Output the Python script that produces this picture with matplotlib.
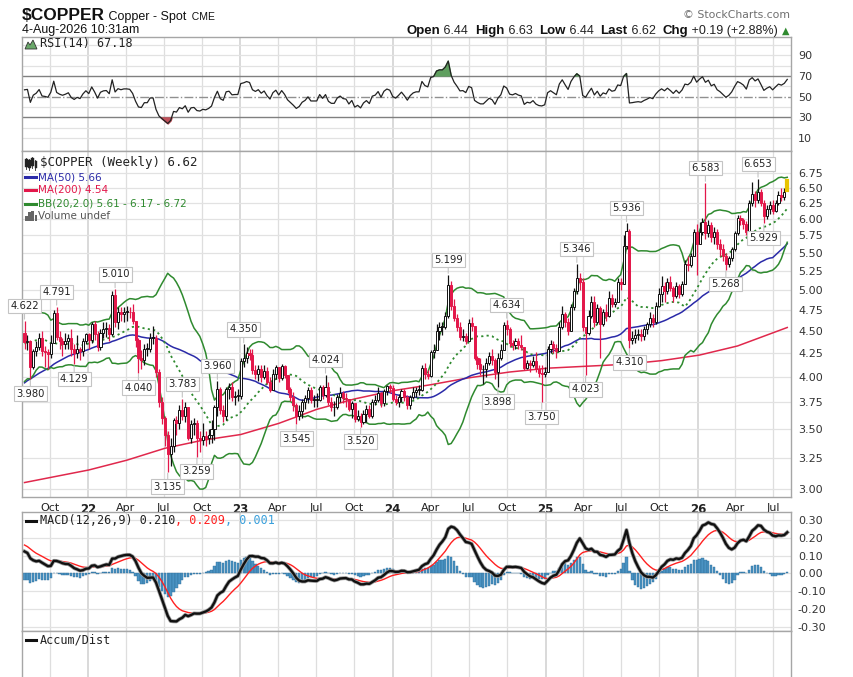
import numpy as np
import pandas as pd
import matplotlib
matplotlib.use("Agg")
import matplotlib.pyplot as plt
import matplotlib.dates as mdates
import matplotlib.patheffects as pe
from matplotlib.lines import Line2D
from matplotlib.patches import Polygon, Rectangle

W, H = 854, 677

# ---------------- data (weekly) ----------------
first_week = "2021-08-02"

# weeks before the first visible one, only used to warm up MA50 / BB / RSI / MACD
warmup_close = [3.25, 3.28, 3.30, 3.35, 3.40, 3.40, 3.45, 3.42, 3.40,
                3.45, 3.48, 3.52, 3.50, 3.55, 3.60, 3.68, 3.75,
                3.80, 3.85, 3.85, 3.88, 3.85, 3.88, 3.85, 3.80,
                3.85, 3.95, 4.15, 4.20, 4.15, 4.12, 4.10, 4.05,
                4.02, 4.15, 4.28, 4.48, 4.58, 4.72, 4.65, 4.60,
                4.55, 4.48, 4.22, 4.30, 4.30, 4.35, 4.32, 4.48]

close = [
    # 2021
    4.37, 4.38, 4.10, 4.27, 4.32, 4.42, 4.27, 4.26, 4.24, 4.36, 4.71,
    4.43, 4.38, 4.35, 4.38, 4.42, 4.30, 4.25, 4.30, 4.27, 4.38, 4.46,
    # 2022
    4.40, 4.58, 4.47, 4.32, 4.48, 4.52, 4.53, 4.46, 4.93, 4.60, 4.73, 4.70, 4.73,
    4.73, 4.72, 4.62, 4.40, 4.20, 4.18, 4.30, 4.30, 4.42, 4.42, 4.05, 3.75, 3.60,
    3.45, 3.28, 3.35, 3.58, 3.55, 3.67, 3.62, 3.70, 3.42, 3.54, 3.55, 3.42, 3.40,
    3.44, 3.42, 3.45, 3.50, 3.70, 3.88, 3.67, 3.62, 3.88, 3.90, 3.80, 3.81, 3.81,
    # 2023
    4.17, 4.20, 4.25, 4.23, 4.07, 4.03, 4.08, 4.00, 4.06, 3.95, 3.87, 4.03, 4.10,
    3.99, 4.11, 4.02, 3.88, 3.80, 3.72, 3.62, 3.66, 3.75, 3.79, 3.87, 3.77, 3.77,
    3.77, 3.90, 3.82, 3.90, 3.75, 3.70, 3.70, 3.80, 3.84, 3.79, 3.78, 3.68, 3.74,
    3.59, 3.62, 3.56, 3.64, 3.68, 3.62, 3.75, 3.77, 3.84, 3.74, 3.86, 3.91, 3.89,
    # 2024
    3.78, 3.75, 3.80, 3.86, 3.80, 3.72, 3.80, 3.85, 3.87, 3.87, 4.09, 4.03, 4.01,
    4.26, 4.29, 4.50, 4.55, 4.55, 4.68, 5.06, 4.80, 4.65, 4.55, 4.43, 4.44, 4.39,
    4.59, 4.56, 4.20, 4.13, 4.08, 4.08, 4.15, 4.22, 4.18, 4.05, 4.20, 4.29, 4.57, 4.52,
    4.36, 4.34, 4.38, 4.34, 4.32, 4.09, 4.14, 4.12, 4.17, 4.08, 4.04, 4.03, 4.05,
    # 2025
    4.30, 4.35, 4.31, 4.27, 4.55, 4.70, 4.60, 4.50, 4.78, 4.98, 5.15, 5.10, 4.55,
    4.48, 4.67, 4.85, 4.61, 4.77, 4.58, 4.72, 4.68, 4.90, 4.82, 4.85, 5.10, 5.08,
    5.60, 5.82, 4.40, 4.42, 4.45, 4.47, 4.44, 4.52, 4.58, 4.65, 4.60, 4.80, 4.95,
    5.05, 4.98, 5.10, 5.02, 4.92, 5.05, 4.95, 5.08, 5.35, 5.33, 5.45, 5.80, 5.62,
    # 2026
    5.80, 5.95, 5.78, 5.90, 5.72, 5.80, 5.62, 5.55, 5.45, 5.35, 5.42, 5.55, 5.78,
    6.02, 5.98, 5.92, 5.80, 6.25, 6.40, 6.30, 6.42, 6.25, 6.05, 6.15, 6.22, 6.12,
    6.25, 6.38, 6.35, 6.43, 6.62,
]

high = [
    4.622, 4.45, 4.40, 4.30, 4.38, 4.48, 4.50, 4.33, 4.30, 4.45, 4.75,
    4.791, 4.50, 4.42, 4.48, 4.46, 4.52, 4.35, 4.45, 4.32, 4.42, 4.48,
    4.48, 4.60, 4.62, 4.50, 4.52, 4.60, 4.60, 4.58, 4.98, 5.010, 4.78, 4.78, 4.78,
    4.80, 4.78, 4.82, 4.60, 4.42, 4.28, 4.35, 4.36, 4.48, 4.56, 4.45, 4.08, 3.80,
    3.62, 3.48, 3.42, 3.60, 3.62, 3.72, 3.783, 3.75, 3.70, 3.58, 3.60, 3.58, 3.48,
    3.55, 3.48, 3.50, 3.58, 3.72, 3.96, 3.90, 3.72, 3.90, 3.94, 3.95, 3.86, 3.88,
    4.20, 4.35, 4.32, 4.30, 4.30, 4.12, 4.12, 4.12, 4.12, 4.10, 4.00, 4.08, 4.12,
    4.10, 4.13, 4.12, 4.02, 3.90, 3.85, 3.74, 3.72, 3.78, 3.82, 3.90, 3.90, 3.82,
    3.84, 3.92, 3.92, 4.024, 3.95, 3.80, 3.76, 3.83, 3.90, 3.86, 3.84, 3.78, 3.76,
    3.74, 3.67, 3.65, 3.67, 3.72, 3.72, 3.78, 3.82, 3.90, 3.85, 3.88, 3.92, 3.93,
    3.92, 3.82, 3.83, 3.88, 3.88, 3.82, 3.82, 3.90, 3.90, 3.92, 4.12, 4.15, 4.07,
    4.28, 4.35, 4.58, 4.60, 4.60, 4.72, 5.199, 5.12, 4.88, 4.70, 4.60, 4.52, 4.48,
    4.64, 4.66, 4.55, 4.22, 4.20, 4.12, 4.20, 4.26, 4.30, 4.20, 4.25, 4.35, 4.60, 4.634,
    4.55, 4.40, 4.42, 4.42, 4.45, 4.30, 4.18, 4.18, 4.22, 4.26, 4.12, 4.12, 4.10,
    4.33, 4.40, 4.38, 4.35, 4.60, 4.80, 4.72, 4.65, 4.82, 5.02, 5.346, 5.22, 5.15,
    4.52, 4.75, 4.92, 4.92, 4.82, 4.80, 4.76, 4.82, 4.98, 4.95, 4.90, 5.15, 5.16,
    5.75, 5.936, 5.85, 4.50, 4.52, 4.52, 4.52, 4.56, 4.60, 4.72, 4.70, 4.85, 5.02,
    5.18, 5.10, 5.15, 5.18, 5.05, 5.10, 5.08, 5.12, 5.40, 5.45, 5.50, 5.85, 5.92,
    5.95, 6.02, 6.583, 5.98, 5.95, 5.88, 5.85, 5.70, 5.62, 5.50, 5.46, 5.58, 5.82,
    6.06, 6.06, 6.02, 5.96, 6.30, 6.60, 6.45, 6.653, 6.48, 6.30, 6.22, 6.28, 6.30,
    6.30, 6.45, 6.50, 6.50, 6.63,
]

low = [
    4.30, 4.28, 3.98, 4.08, 4.22, 4.28, 4.22, 4.10, 4.08, 4.20, 4.36,
    4.40, 4.30, 4.22, 4.30, 4.30, 4.22, 4.129, 4.20, 4.18, 4.22, 4.35,
    4.30, 4.36, 4.40, 4.27, 4.28, 4.42, 4.43, 4.38, 4.44, 4.55, 4.52, 4.62, 4.60,
    4.62, 4.65, 4.58, 4.32, 4.04, 4.08, 4.12, 4.22, 4.26, 4.35, 4.00, 3.70, 3.54,
    3.35, 3.135, 3.18, 3.30, 3.45, 3.50, 3.58, 3.56, 3.40, 3.38, 3.45, 3.259, 3.30,
    3.36, 3.35, 3.37, 3.38, 3.40, 3.62, 3.64, 3.56, 3.58, 3.78, 3.76, 3.72, 3.76,
    3.78, 4.10, 4.15, 4.18, 4.03, 3.98, 3.96, 3.95, 3.98, 3.93, 3.85, 3.92, 3.98,
    3.95, 3.97, 3.99, 3.84, 3.76, 3.66, 3.545, 3.58, 3.60, 3.68, 3.74, 3.74, 3.70,
    3.70, 3.76, 3.78, 3.80, 3.72, 3.66, 3.62, 3.68, 3.75, 3.74, 3.70, 3.66, 3.60,
    3.56, 3.57, 3.52, 3.54, 3.56, 3.60, 3.60, 3.72, 3.75, 3.70, 3.71, 3.82, 3.84,
    3.76, 3.72, 3.70, 3.75, 3.76, 3.68, 3.68, 3.78, 3.80, 3.82, 3.86, 3.98, 3.98,
    4.00, 4.20, 4.28, 4.40, 4.45, 4.52, 4.65, 4.75, 4.62, 4.50, 4.40, 4.38, 4.35,
    4.38, 4.50, 4.18, 4.08, 4.02, 3.93, 4.00, 4.12, 4.12, 3.98, 3.898, 4.18, 4.28, 4.45,
    4.32, 4.28, 4.30, 4.30, 4.28, 4.07, 4.08, 4.05, 4.10, 4.05, 4.00, 3.75, 4.00,
    4.05, 4.25, 4.25, 4.20, 4.27, 4.52, 4.55, 4.45, 4.50, 4.75, 4.95, 5.00, 4.50,
    4.023, 4.45, 4.65, 4.55, 4.58, 4.20, 4.56, 4.62, 4.66, 4.78, 4.78, 4.85, 5.00,
    5.08, 5.55, 4.31, 4.35, 4.36, 4.40, 4.38, 4.40, 4.46, 4.55, 4.55, 4.58, 4.78,
    4.85, 4.85, 4.95, 4.98, 4.85, 4.90, 4.90, 4.92, 5.08, 5.25, 5.30, 5.45, 5.20,
    5.62, 5.75, 5.70, 5.72, 5.65, 5.62, 5.55, 5.45, 5.38, 5.268, 5.30, 5.38, 5.52,
    5.75, 5.90, 5.85, 5.76, 5.78, 6.20, 6.18, 6.25, 6.20, 5.929, 6.00, 6.08, 6.08,
    6.10, 6.22, 6.28, 6.30, 6.44,
]
last_open = 6.44

# 200-week moving average
ma200_dates = ["2021-08-02", "2022-01-03", "2022-04-04", "2022-07-04", "2022-10-03",
               "2023-01-02", "2023-04-03", "2023-07-03", "2023-10-02", "2024-01-01",
               "2024-04-01", "2024-07-01", "2024-10-07", "2025-01-06", "2025-04-07",
               "2025-07-07", "2025-10-06", "2026-01-05", "2026-04-06", "2026-08-03"]
ma200_vals = [3.05, 3.15, 3.23, 3.33, 3.40, 3.45, 3.55, 3.68, 3.78, 3.86,
              3.92, 3.99, 4.05, 4.09, 4.11, 4.13, 4.17, 4.23, 4.33, 4.54]

# annotated highs / lows
label_dates = ["2021-08-02", "2021-08-16", "2021-10-18", "2021-11-29", "2022-03-07",
               "2022-05-02", "2022-07-11", "2022-08-15", "2022-09-19", "2022-11-07",
               "2023-01-09", "2023-05-15", "2023-07-24", "2023-10-16", "2024-05-13",
               "2024-09-09", "2024-09-30", "2024-12-23", "2025-03-17", "2025-04-07",
               "2025-07-14", "2025-07-21", "2026-01-19", "2026-03-09", "2026-05-25",
               "2026-06-08"]
label_vals = [4.622, 3.980, 4.791, 4.129, 5.010, 4.040, 3.135, 3.783, 3.259, 3.960,
              4.350, 3.545, 4.024, 3.520, 5.199, 3.898, 4.634, 3.750, 5.346, 4.023,
              5.936, 4.310, 6.583, 5.268, 6.653, 5.929]
label_kind = ["h", "l", "h", "l", "h", "l", "l", "h", "l", "h", "h", "l", "h", "l",
              "h", "l", "h", "l", "h", "l", "h", "l", "h", "l", "h", "l"]

price_ticks = [3.00, 3.25, 3.50, 3.75, 4.00, 4.25, 4.50, 4.75, 5.00, 5.25,
               5.50, 5.75, 6.00, 6.25, 6.50, 6.75]
rsi_ticks = [10, 30, 50, 70, 90]
macd_ticks = [0.30, 0.20, 0.10, 0.00, -0.10, -0.20, -0.30]

rsi_text = "RSI(14) 67.18"
main_text = "$COPPER (Weekly) 6.62"
ma50_text = "MA(50) 5.66"
ma200_text = "MA(200) 4.54"
bb_text = "BB(20,2.0) 5.61 - 6.17 - 6.72"
macd_vals_text = ["0.210", "0.209", "0.001"]

# ---------------- indicators ----------------
dates = pd.date_range(first_week, periods=len(close), freq="7D")
x = mdates.date2num(dates)
n0 = len(warmup_close)
allc = pd.Series(warmup_close + close, dtype=float)

ma50 = allc.rolling(50).mean().to_numpy()[n0:]
mid = allc.rolling(20).mean()
sd = allc.rolling(20).std(ddof=0)
bb_up = (mid + 2 * sd).to_numpy()[n0:]
bb_lo = (mid - 2 * sd).to_numpy()[n0:]
bb_mid = mid.to_numpy()[n0:]

d = allc.diff()
gain = d.clip(lower=0).ewm(alpha=1 / 14, adjust=False).mean()
loss = (-d.clip(upper=0)).ewm(alpha=1 / 14, adjust=False).mean()
rsi = (100 - 100 / (1 + gain / loss)).to_numpy()[n0:]

ema12 = allc.ewm(span=12, adjust=False).mean()
ema26 = allc.ewm(span=26, adjust=False).mean()
macd_s = ema12 - ema26
sig_s = macd_s.ewm(span=9, adjust=False).mean()
macd = macd_s.to_numpy()[n0:]
sig = sig_s.to_numpy()[n0:]
hist = macd - sig

c = np.array(close)
prev = np.r_[warmup_close[-1], c[:-1]]
o = prev.copy()
o[-1] = last_open
hi = np.maximum.reduce([np.array(high), o, c])
lo = np.minimum.reduce([np.array(low), o, c])

# ---------------- figure ----------------
RED = "#e3174a"
GREEN = "#2f8a2f"
BLUE = "#2a2aa8"
GRID = "#e2e2e2"
SPINE = "#a6a6a6"

fig = plt.figure(figsize=(W / 100, H / 100), dpi=100)
fig.patch.set_facecolor("white")


def rect(top, bottom, left=22, right=791):
    return [left / W, 1 - bottom / H, (right - left) / W, (bottom - top) / H]


def px(xp, yp):
    return xp / W, 1 - yp / H


ax_rsi = fig.add_axes(rect(37, 151))
ax_p = fig.add_axes(rect(151, 497))
ax_m = fig.add_axes(rect(512, 631))
ax_ad = fig.add_axes(rect(631, 700))

xmin = mdates.date2num(pd.Timestamp("2021-07-27"))
xmax = mdates.date2num(pd.Timestamp("2026-08-12"))
quarters = pd.date_range("2021-10-01", "2026-07-01", freq="QS")

for ax in (ax_rsi, ax_p, ax_m, ax_ad):
    ax.set_xlim(xmin, xmax)
    for s in ax.spines.values():
        s.set_color(SPINE)
        s.set_linewidth(1)
    for q in quarters:
        yr = q.month == 1
        ax.axvline(q, color="#cfcfcf" if yr else "#dedede", lw=1.1 if yr else 0.9, zorder=0)
    ax.yaxis.tick_right()
    ax.tick_params(axis="y", length=0, pad=5, labelsize=8, labelcolor="#333333")
    ax.tick_params(axis="x", length=0, labelbottom=False)

# ---- RSI panel
ax_rsi.set_ylim(-2.3, 107.5)
ax_rsi.set_yticks(rsi_ticks)
for lv in range(10, 101, 10):
    if lv in (30, 50, 70):
        continue
    ax_rsi.axhline(lv, color=GRID, lw=0.9, zorder=0)
ax_rsi.axhline(70, color="#808080", lw=1, zorder=1)
ax_rsi.axhline(30, color="#808080", lw=1, zorder=1)
ax_rsi.axhline(50, color="#909090", lw=1, ls="-.", zorder=1)
ax_rsi.fill_between(x, rsi, 70, where=rsi > 70, color="#5f9f5f", interpolate=True, zorder=2)
ax_rsi.fill_between(x, rsi, 30, where=rsi < 30, color="#c0505a", interpolate=True, zorder=2)
ax_rsi.plot(x, rsi, color="#222222", lw=0.9, zorder=3)

# ---- price panel
ax_p.set_yscale("log")
ax_p.set_ylim(2.939, 7.14)
ax_p.yaxis.set_major_locator(matplotlib.ticker.FixedLocator(price_ticks))
ax_p.yaxis.set_minor_locator(matplotlib.ticker.NullLocator())
ax_p.yaxis.set_major_formatter(matplotlib.ticker.FuncFormatter(lambda v, p: f"{v:.2f}"))
for lv in price_ticks:
    ax_p.axhline(lv, color=GRID, lw=0.9, zorder=0)

ax_p.plot(mdates.date2num(pd.to_datetime(ma200_dates)), ma200_vals, color="#e0284c", lw=1.1, zorder=2)
ax_p.plot(x, ma50, color=BLUE, lw=1.1, zorder=2)
ax_p.plot(x, bb_up, color=GREEN, lw=1.1, zorder=2)
ax_p.plot(x, bb_lo, color=GREEN, lw=1.1, zorder=2)
ax_p.plot(x, bb_mid, color=GREEN, lw=1.3, ls=(0, (1.2, 1.8)), zorder=2)

cols = np.where(c >= prev, "#111111", RED)
face = [("white" if cc > oo else col) for cc, oo, col in zip(c, o, cols)]
ax_p.vlines(x, lo, hi, colors=cols, lw=0.9, zorder=4)
ax_p.bar(x, np.maximum(np.abs(c - o), 0.006), bottom=np.minimum(o, c), width=5.0,
         color=face, edgecolor=cols, linewidth=0.7, zorder=5)
ax_p.bar(x[-1], c[-1] - o[-1], bottom=o[-1], width=5.2, color="#222222",
         edgecolor="#e8c400", linewidth=1.6, zorder=6)

for ds, v, k in zip(label_dates, label_vals, label_kind):
    xd = mdates.date2num(pd.Timestamp(ds))
    up = k == "h"
    ax_p.annotate(f"{v:.3f}", xy=(xd, v), xytext=(0, 7 if up else -7),
                  textcoords="offset points", ha="center",
                  va="bottom" if up else "top", fontsize=7.2, family="DejaVu Sans",
                  color="#222222", annotation_clip=False, zorder=8,
                  bbox=dict(boxstyle="square,pad=0.22", fc="white", ec="#c4c4c4", lw=0.8),
                  arrowprops=dict(arrowstyle="-", color="#c4c4c4", lw=0.8, shrinkA=0, shrinkB=1))

ax_p.set_xticks(mdates.date2num(quarters))
ax_p.set_xticklabels([f"{q.year % 100:02d}" if q.month == 1 else q.strftime("%b") for q in quarters])
ax_p.tick_params(axis="x", length=0, pad=4, labelbottom=True, labelsize=8, labelcolor="#222222")
for t, q in zip(ax_p.get_xticklabels(), quarters):
    if q.month == 1:
        t.set_fontweight("bold")
        t.set_fontsize(8.5)

# ---- MACD panel
ax_m.set_ylim(-0.3245, 0.345)
ax_m.set_yticks(macd_ticks)
ax_m.yaxis.set_major_formatter(matplotlib.ticker.FuncFormatter(lambda v, p: f"{v:.2f}"))
for lv in macd_ticks:
    ax_m.axhline(lv, color=GRID, lw=0.9, zorder=0)
ax_m.bar(x, hist, width=5.5, color="#4a92c2", edgecolor="#2d6e9a", linewidth=0.3, zorder=2)
ax_m.plot(x, sig, color="#ff2020", lw=1.0, zorder=3)
ax_m.plot(x, macd, color="#111111", lw=1.7, zorder=4,
          path_effects=[pe.Stroke(linewidth=2.8, foreground="#9a9a9a"), pe.Normal()])

# ---- Accum/Dist panel (empty)
ax_ad.set_ylim(0, 1)
ax_ad.set_yticks([])

# ---------------- texts ----------------
renderer = fig.canvas.get_renderer()


def seq_text(x0, y0, pieces, align="left"):
    arts = []
    for s, kw in pieces:
        arts.append(fig.text(0, 1 - y0 / H, s, va="baseline", **kw))
    widths = [a.get_window_extent(renderer).width for a in arts]
    xs = x0 - sum(widths) if align == "right" else x0
    for a, w in zip(arts, widths):
        a.set_x(xs / W)
        xs += w


LS = "Liberation Sans"
seq_text(22, 20, [("$COPPER", dict(fontsize=12.5, weight="bold", family=LS, color="#111111")),
                  (" Copper - Spot", dict(fontsize=9, family=LS, color="#111111")),
                  ("  CME", dict(fontsize=7.5, family=LS, color="#111111"))])
fig.text(22 / W, 1 - 33.5 / H, "4-Aug-2026 10:31am", fontsize=9, family=LS,
         color="#111111", va="baseline")
fig.text(790 / W, 1 - 18 / H, "\u00a9 StockCharts.com", fontsize=7.8, family="DejaVu Sans",
         color="#6f6f6f", ha="right", va="baseline")

b = dict(fontsize=9.5, weight="bold", family=LS, color="#111111")
n = dict(fontsize=9, family=LS, color="#222222")
seq_text(789, 34, [("Open", b), (" 6.44  ", n), ("High", b), (" 6.63  ", n),
                   ("Low", b), (" 6.44  ", n), ("Last", b), (" 6.62  ", n),
                   ("Chg", b), (" +0.19 (+2.88%) ", n),
                   ("\u25b2", dict(fontsize=7, family="DejaVu Sans", color="#2f8a2f"))],
         align="right")

MONO = "DejaVu Sans Mono"
# RSI legend with mountain icon
fig.add_artist(Polygon([px(25, 49), px(28, 42), px(30, 45), px(33, 40), px(37, 49)],
                       closed=True, transform=fig.transFigure, fc="#6aa86a", ec="#333333", lw=0.6))
fig.text(40 / W, 1 - 44 / H, rsi_text, fontsize=8.5, family=MONO, color="#222222", va="center")

# price legend
for xi, (yt, yb) in zip([26.5, 29.5, 32.5, 35.5], [(159, 167), (160, 168), (158, 166), (161, 168)]):
    fig.add_artist(Line2D([xi / W] * 2, [1 - (yt - 1.5) / H, 1 - (yb + 1.5) / H],
                          transform=fig.transFigure, color="#222222", lw=0.6))
    fig.add_artist(Rectangle(px(xi - 1, yb), 2 / W, (yb - yt) / H, transform=fig.transFigure,
                             fc="#222222", ec="#222222", lw=0.3))
fig.text(40 / W, 1 - 162.5 / H, main_text, fontsize=9, family=MONO, color="#222222", va="center")

for yl, colr, txt in [(177, BLUE, ma50_text), (190, RED, ma200_text), (204, GREEN, bb_text)]:
    fig.add_artist(Line2D([25 / W, 36.5 / W], [1 - yl / H] * 2, transform=fig.transFigure,
                          color=colr, lw=2.2))
    fig.text(38.3 / W, 1 - yl / H, txt, fontsize=7.5, family="DejaVu Sans", color=colr, va="center")

for xi, hgt in zip([26.5, 29.5, 32.5, 35.5], [5, 8, 9, 6]):
    fig.add_artist(Rectangle(px(xi - 1, 220.5), 2 / W, hgt / H, transform=fig.transFigure,
                             fc="#666666", ec="none"))
fig.text(38.3 / W, 1 - 216 / H, "Volume undef", fontsize=7.5, family="DejaVu Sans",
         color="#555555", va="center")

# MACD legend
fig.add_artist(Line2D([26.5 / W, 36 / W], [1 - 520.5 / H] * 2, transform=fig.transFigure,
                      color="#111111", lw=2.2))
seq_text(40, 524, [("MACD(12,26,9) " + macd_vals_text[0], dict(fontsize=8.5, family=MONO, color="#222222")),
                   (", " + macd_vals_text[1], dict(fontsize=8.5, family=MONO, color="#ff2020")),
                   (", " + macd_vals_text[2], dict(fontsize=8.5, family=MONO, color="#3aa0dc"))])

# Accum/Dist legend
fig.add_artist(Line2D([26.5 / W, 36 / W], [1 - 640 / H] * 2, transform=fig.transFigure,
                      color="#111111", lw=2.2))
fig.text(40 / W, 1 - 640 / H, "Accum/Dist", fontsize=8.5, family=MONO, color="#222222", va="center")

fig.savefig("out.png", dpi=100, facecolor="white")
